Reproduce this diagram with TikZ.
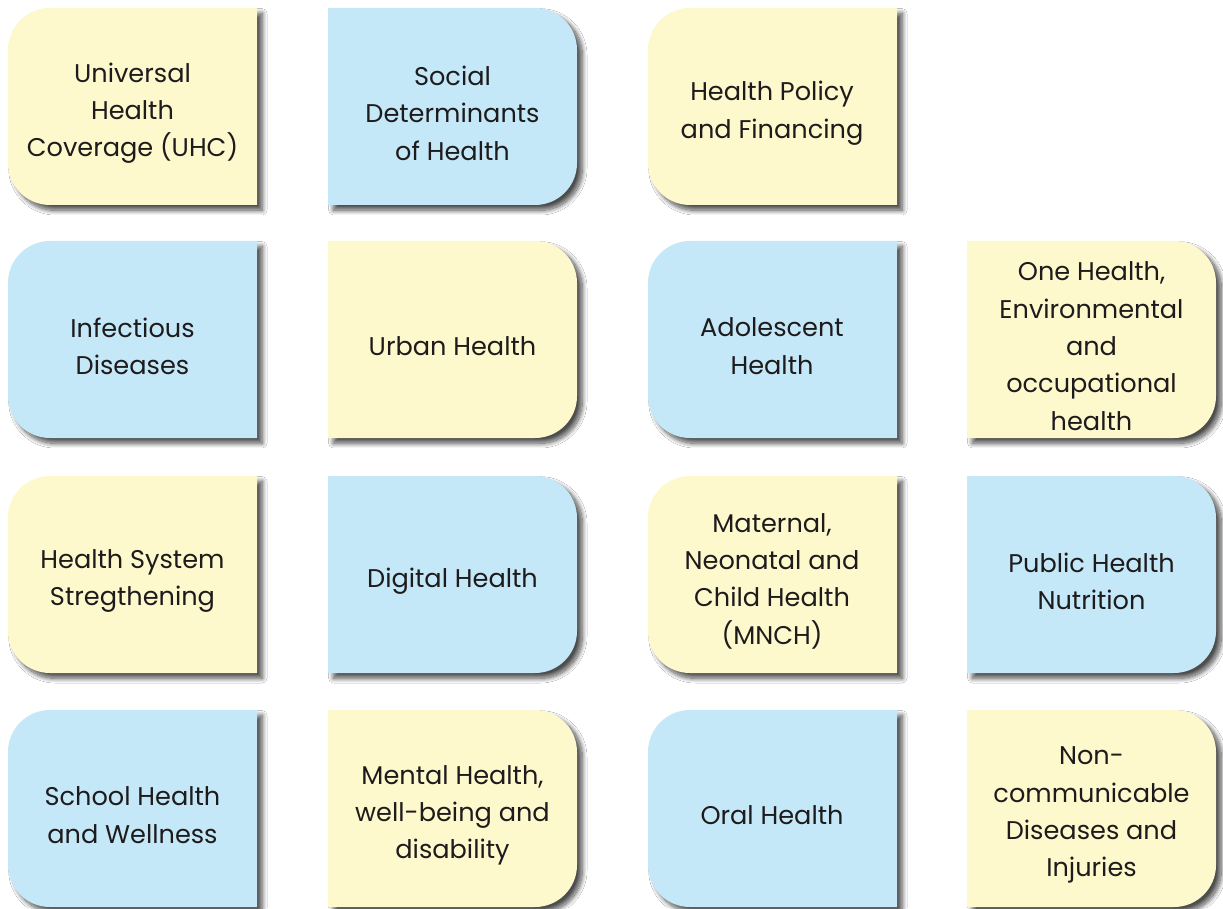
\documentclass[tikz,border=0pt]{standalone}
\usepackage{fontspec}
\setmainfont{Poppins}
\usetikzlibrary{shadows.blur}
\definecolor{boxyellow}{RGB}{254,248,205}
\definecolor{boxblue}{RGB}{197,232,248}
\definecolor{txt}{RGB}{30,27,28}
\tikzset{
  x=0.75pt, y=0.75pt,
  tile/.style={blur shadow={shadow xshift=4pt, shadow yshift=-4pt, shadow blur radius=3.5pt, shadow blur steps=14, shadow opacity=70}},
  label/.style={align=center, text=txt, font=\fontsize{19.2}{28}\selectfont, inner sep=0pt, yshift=-5}
}
% left-rounded tile: #1 colour, #2 left x, #3 bottom y
\newcommand{\tileL}[3]{%
  \path[tile, fill=#1] (#2+249,#3+197) -- (#2+42,#3+197) arc[start angle=90, end angle=180, radius=42]
    -- (#2,#3+42) arc[start angle=180, end angle=270, radius=42] -- (#2+249,#3) -- cycle;}
% right-rounded tile
\newcommand{\tileR}[3]{%
  \path[tile, fill=#1] (#2,#3+197) -- (#2+207,#3+197) arc[start angle=90, end angle=0, radius=42]
    -- (#2+249,#3+42) arc[start angle=0, end angle=-90, radius=42] -- (#2,#3) -- cycle;}
\begin{document}
\begin{tikzpicture}
\useasboundingbox[fill=white] (0,0) rectangle (1223,908);
% row 1 (bottom y = 703)
\tileL{boxyellow}{8}{703}
\tileR{boxblue}{328}{703}
\tileL{boxyellow}{648}{703}
% row 2 (bottom y = 470)
\tileL{boxblue}{8}{470}
\tileR{boxyellow}{328}{470}
\tileL{boxblue}{648}{470}
\tileR{boxyellow}{967}{470}
% row 3 (bottom y = 235)
\tileL{boxyellow}{8}{235}
\tileR{boxblue}{328}{235}
\tileL{boxyellow}{648}{235}
\tileR{boxblue}{967}{235}
% row 4 (bottom y = 1)
\tileL{boxblue}{8}{1}
\tileR{boxyellow}{328}{1}
\tileL{boxblue}{648}{1}
\tileR{boxyellow}{967}{1}
% labels
\node[label] (uhc) at (132.5,801.5) {Universal\\Health\\Coverage (UHC)};
\node[label] (sdh) at (452.5,801.5) {Social\\Determinants\\of Health};
\node[label] (hpf) at (772,801.5) {Health Policy\\and Financing};
\node[label] (inf) at (132.5,568.5) {Infectious\\Diseases};
\node[label] (urb) at (452.5,568.5) {Urban Health};
\node[label] (ado) at (772,568.5) {Adolescent\\Health};
\node[label] (one) at (1091.5,568.5) {One Health,\\Environmental\\and\\occupational\\health};
\node[label] (hss) at (132.5,333.5) {Health System\\Stregthening};
\node[label] (dig) at (452.5,333.5) {Digital Health};
\node[label] (mnch) at (772,333.5) {Maternal,\\Neonatal and\\Child Health\\(MNCH)};
\node[label] (phn) at (1091.5,333.5) {Public Health\\Nutrition};
\node[label] (sch) at (132.5,99.5) {School Health\\and Wellness};
\node[label] (men) at (452.5,99.5) {Mental Health,\\well-being and\\disability};
\node[label] (oral) at (772,99.5) {Oral Health};
\node[label] (ncd) at (1091.5,99.5) {Non-\\communicable\\Diseases and\\Injuries};
\end{tikzpicture}
\end{document}
